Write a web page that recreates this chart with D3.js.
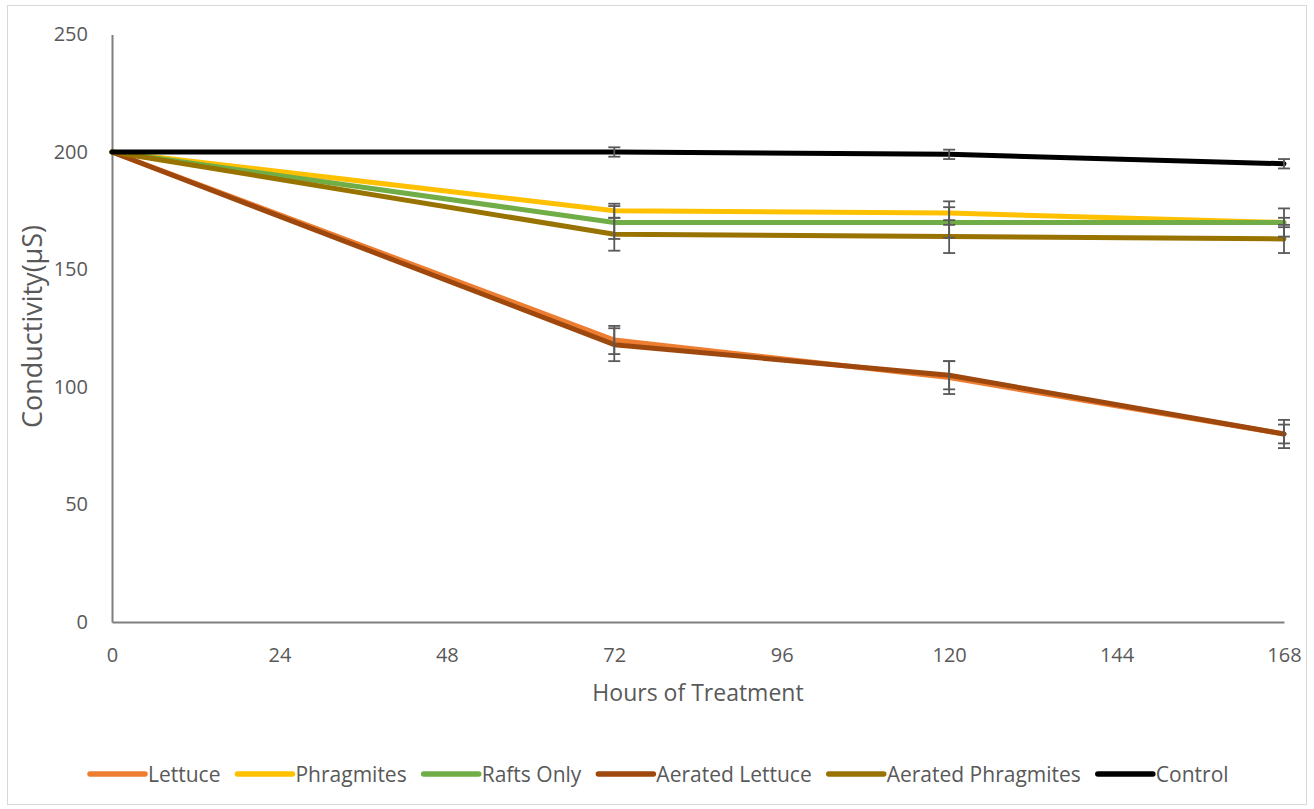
<!DOCTYPE html>
<html>
<head>
<meta charset="utf-8">
<script src="https://cdn.jsdelivr.net/npm/d3@7"></script>
<style>
  html, body { margin: 0; padding: 0; background: #fff; }
  svg text { font-family: "Open Sans", Lato, sans-serif; fill: #595959; }
</style>
</head>
<body>
<svg id="chart" width="1314" height="809"></svg>
<script>
// Sampling times (hours) and conductivity readings per treatment
const hours = [0, 72, 120, 168];
const xTicks = [0, 24, 48, 72, 96, 120, 144, 168];
const yTicks = [0, 50, 100, 150, 200, 250];

const seriesNames = ["Lettuce", "Phragmites", "Rafts Only", "Aerated Lettuce", "Aerated Phragmites", "Control"];
const seriesColors = ["#ED7D31", "#FFC000", "#70AD47", "#9E480E", "#997300", "#000000"];

const lettuce = [200, 120, 104, 80];
const phragmites = [200, 175, 174, 170];
const raftsOnly = [200, 170, 170, 170];
const aeratedLettuce = [200, 118, 105, 80];
const aeratedPhragmites = [200, 165, 164, 163];
const control = [200, 200, 199, 195];

// Standard error (±) at each sampling time
const lettuceErr = [0, 6, 7, 6];
const phragmitesErr = [0, 3, 5, 6];
const raftsOnlyErr = [0, 7, 6.5, 2];
const aeratedLettuceErr = [0, 7, 6, 4];
const aeratedPhragmitesErr = [0, 7, 7, 6];
const controlErr = [0, 2, 2, 2];

const seriesValues = [lettuce, phragmites, raftsOnly, aeratedLettuce, aeratedPhragmites, control];
const seriesErrors = [lettuceErr, phragmitesErr, raftsOnlyErr, aeratedLettuceErr, aeratedPhragmitesErr, controlErr];

const svg = d3.select("#chart");

// chart frame
svg.append("rect").attr("x", 7.5).attr("y", 5.5).attr("width", 1299).attr("height", 799)
  .attr("fill", "#fff").attr("stroke", "#d9d9d9").attr("stroke-width", 1);

const plot = { left: 112, right: 1284, top: 34.5, bottom: 622 };

const x = d3.scaleLinear().domain([0, 168]).range([plot.left, plot.right]);
const y = d3.scaleLinear().domain([0, 250]).range([plot.bottom, plot.top]);

// axes
const xAxis = d3.axisBottom(x).tickValues(xTicks).tickSize(0).tickPadding(26).tickFormat(d3.format("d"));
const yAxis = d3.axisLeft(y).tickValues(yTicks).tickSize(0).tickPadding(24).tickFormat(d3.format("d"));

const gx = svg.append("g").attr("transform", `translate(0,${plot.bottom})`).call(xAxis);
const gy = svg.append("g").attr("transform", `translate(${plot.left},0)`).call(yAxis);
[gx, gy].forEach(g => {
  g.select(".domain").attr("stroke", "#7f7f7f").attr("stroke-width", 2);
  g.selectAll("text").style("font-size", "20px").attr("fill", "#595959")
    .style("font-family", "'Open Sans', Lato, sans-serif");
});

// axis titles
svg.append("text").attr("x", (plot.left + plot.right) / 2).attr("y", 701)
  .attr("text-anchor", "middle").style("font-size", "23px").text("Hours of Treatment");
svg.append("text").attr("transform", `translate(41.5,326.5) rotate(-90)`)
  .attr("text-anchor", "middle").style("font-size", "27px").text("Conductivity(µS)");

// series lines
const line = d3.line().x((d, i) => x(hours[i])).y(d => y(d));
const linesG = svg.append("g");
seriesValues.forEach((vals, s) => {
  linesG.append("path").datum(vals).attr("d", line)
    .attr("fill", "none").attr("stroke", seriesColors[s]).attr("stroke-width", 5)
    .attr("stroke-linecap", "round").attr("stroke-linejoin", "round");
});

// error bars
const errG = svg.append("g").attr("stroke", "#595959").attr("stroke-width", 1.8);
seriesValues.forEach((vals, s) => {
  vals.forEach((v, i) => {
    const e = seriesErrors[s][i];
    if (!e) return;
    const cx = x(hours[i]);
    errG.append("line").attr("x1", cx).attr("x2", cx).attr("y1", y(v + e)).attr("y2", y(v - e));
    [v + e, v - e].forEach(c => {
      errG.append("line").attr("x1", cx - 6).attr("x2", cx + 6).attr("y1", y(c)).attr("y2", y(c));
    });
  });
});

// legend, laid out left to right
const legend = svg.append("g").attr("transform", "translate(90,0)");
const legendY = 774;
let lx = 0;
seriesNames.forEach((name, s) => {
  const g = legend.append("g");
  g.append("line").attr("x1", lx).attr("x2", lx + 55).attr("y1", legendY).attr("y2", legendY)
    .attr("stroke", seriesColors[s]).attr("stroke-width", 5.5).attr("stroke-linecap", "round");
  const t = g.append("text").attr("x", lx + 58).attr("y", legendY + 8).style("font-size", "21px").text(name);
  const tw = t.node().getComputedTextLength();
  lx += 58 + tw + 17;
});
</script>
</body>
</html>
